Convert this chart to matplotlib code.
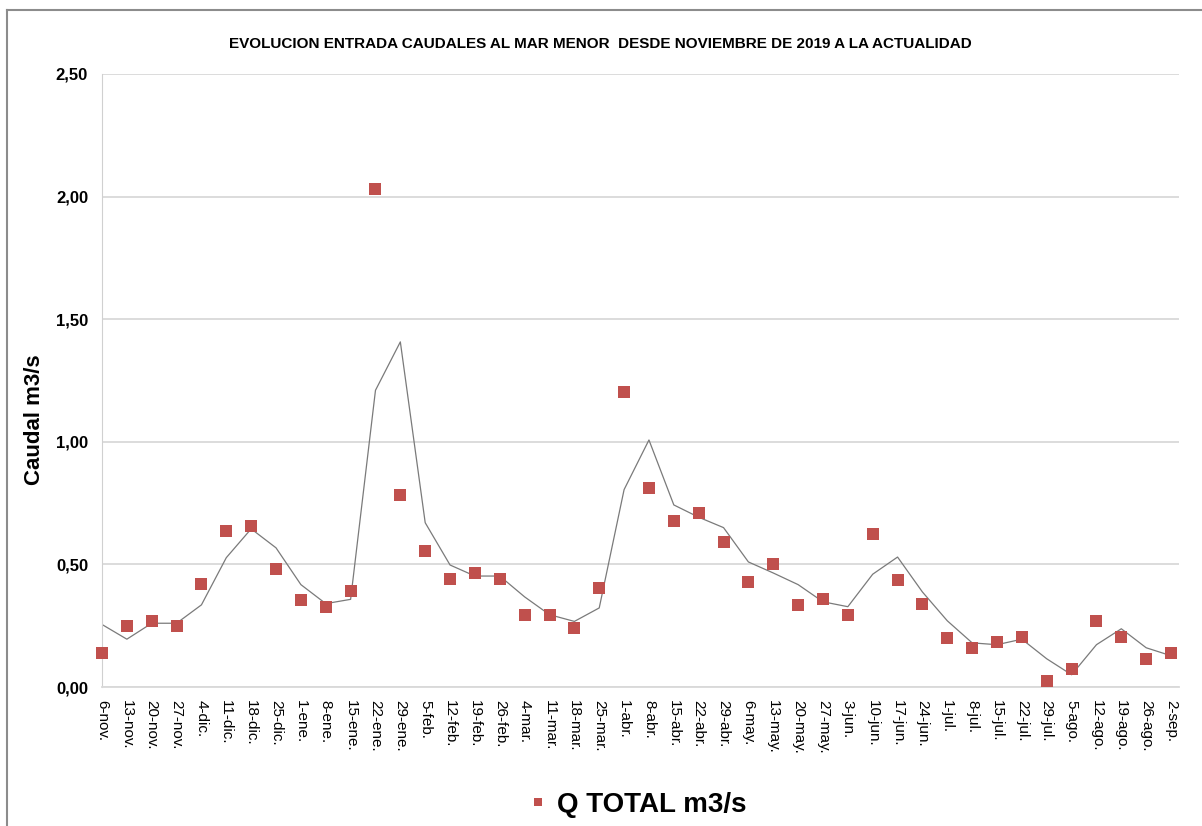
import matplotlib.pyplot as plt
import pandas as pd
from matplotlib.lines import Line2D

# weekly dates (categories on the x axis)
fechas = ['6-nov.', '13-nov.', '20-nov.', '27-nov.', '4-dic.', '11-dic.', '18-dic.', '25-dic.',
          '1-ene.', '8-ene.', '15-ene.', '22-ene.', '29-ene.', '5-feb.', '12-feb.', '19-feb.',
          '26-feb.', '4-mar.', '11-mar.', '18-mar.', '25-mar.', '1-abr.', '8-abr.', '15-abr.',
          '22-abr.', '29-abr.', '6-may.', '13-may.', '20-may.', '27-may.', '3-jun.', '10-jun.',
          '17-jun.', '24-jun.', '1-jul.', '8-jul.', '15-jul.', '22-jul.', '29-jul.', '5-ago.',
          '12-ago.', '19-ago.', '26-ago.', '2-sep.']

# Q TOTAL m3/s
caudal = [0.14, 0.25, 0.27, 0.25, 0.42, 0.635, 0.655, 0.48, 0.355, 0.325, 0.39, 2.03,
          0.785, 0.555, 0.44, 0.465, 0.44, 0.295, 0.295, 0.24, 0.405, 1.205, 0.81, 0.675,
          0.71, 0.59, 0.43, 0.5, 0.335, 0.36, 0.295, 0.625, 0.435, 0.34, 0.20, 0.16,
          0.185, 0.205, 0.025, 0.075, 0.27, 0.205, 0.115, 0.14]

# value of the week before 6-nov (only enters the moving average)
caudal_previo = 0.37

y_ticks = [0.0, 0.5, 1.0, 1.5, 2.0, 2.5]

# 2-period moving average, as the Excel trendline
serie = pd.Series([caudal_previo] + caudal)
media = serie.rolling(2).mean().iloc[1:].to_numpy()

x = list(range(len(fechas)))

fig = plt.figure(figsize=(12.02, 8.26), dpi=100)
ax = fig.add_axes([102 / 1202, 1 - 687 / 826, (1179 - 102) / 1202, (687 - 74) / 826])

ax.plot(x, media, color='#7a7a7a', lw=0.9, zorder=2)
ax.plot(x, caudal, 's', color='#c0504d', markersize=8.5, markeredgewidth=0, zorder=3,
        clip_on=False)

ax.set_xlim(0, 43.32)
ax.set_ylim(0, 2.5)
ax.set_yticks(y_ticks)
ax.set_yticklabels([f'{v:.2f}'.replace('.', ',') for v in y_ticks],
                   fontsize=12, fontweight='bold', family='Liberation Sans')
ax.set_xticks(x)
ax.set_xticklabels(fechas, rotation=-90, fontsize=11, family='Liberation Sans')
ax.tick_params(axis='both', length=0)
ax.tick_params(axis='y', pad=10)
ax.tick_params(axis='x', pad=9)

ax.grid(axis='y', color='#d9d9d9', lw=1.3)
ax.set_axisbelow(True)
for s in ['top', 'right']:
    ax.spines[s].set_visible(False)
ax.spines['left'].set_color('#d0d0d0')
ax.spines['bottom'].set_color('#d9d9d9')
ax.spines['bottom'].set_linewidth(1.3)

fig.text(600 / 1202, 1 - 44 / 826,
         'EVOLUCION ENTRADA CAUDALES AL MAR MENOR  DESDE NOVIEMBRE DE 2019 A LA ACTUALIDAD',
         ha='center', va='center', fontsize=11, fontweight='bold',
         family=['Liberation Sans Narrow', 'Liberation Sans'])
fig.text(35 / 1202, 1 - 420 / 826, 'Caudal m3/s', rotation=90, ha='center', va='center',
         fontsize=16, fontweight='bold', family='Liberation Sans')

# legend
h = Line2D([], [], marker='s', ls='none', color='#c0504d', markersize=6, markeredgewidth=0)
fig.legend([h], ['Q TOTAL m3/s'], loc='center', bbox_to_anchor=(638 / 1202, 1 - 805 / 826),
           frameon=False, handlelength=0.6, handletextpad=0.4,
           prop={'family': 'Liberation Sans', 'weight': 'bold', 'size': 20})

# chart area border (top and left only visible)
fig.add_artist(Line2D([7 / 1202, 1], [1 - 10 / 826, 1 - 10 / 826], color='#8c8c8c', lw=1.5))
fig.add_artist(Line2D([7 / 1202, 7 / 1202], [0, 1 - 10 / 826], color='#8c8c8c', lw=1.5))

fig.savefig('out.png', dpi=100)
